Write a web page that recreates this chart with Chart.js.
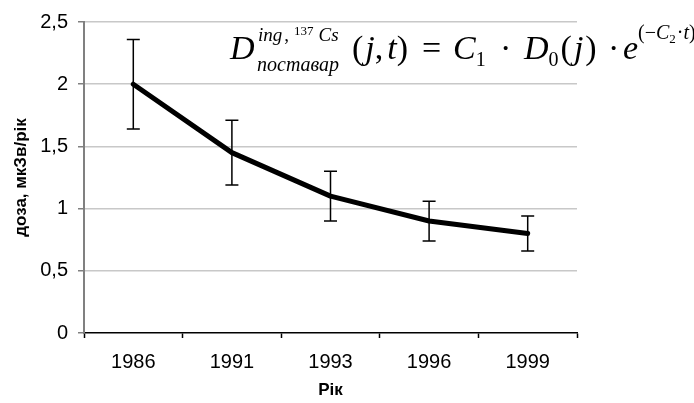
<!DOCTYPE html>
<html>
<head>
<meta charset="utf-8">
<script src="https://cdn.jsdelivr.net/npm/chart.js@4.4.1/dist/chart.umd.min.js"></script>
<style>
  html, body { margin: 0; padding: 0; background: #fff; }
  #wrap { width: 694px; height: 403px; }
</style>
</head>
<body>
<div id="wrap"><canvas id="myChart" width="694" height="403"></canvas></div>
<script>
// data
const years = ['1986', '1991', '1993', '1996', '1999'];
const dose = [2.0, 1.45, 1.1, 0.9, 0.8];
const doseErr = [0.36, 0.26, 0.2, 0.16, 0.14];
const yTicks = [0, 0.5, 1, 1.5, 2, 2.5];

const sans = "'Liberation Sans', Arial, sans-serif";
const serif = "'Liberation Serif', 'Times New Roman', serif";

// error bars, drawn from the y scale
const errorBars = {
  id: 'errorBars',
  afterDatasetsDraw(chart) {
    const ctx = chart.ctx;
    const x = chart.scales.x, y = chart.scales.y;
    ctx.save();
    ctx.strokeStyle = '#000';
    ctx.lineWidth = 1.5;
    dose.forEach((v, i) => {
      const px = x.getPixelForValue(i);
      const top = y.getPixelForValue(v + doseErr[i]);
      const bot = y.getPixelForValue(v - doseErr[i]);
      ctx.beginPath();
      ctx.moveTo(px, top); ctx.lineTo(px, bot);
      ctx.moveTo(px - 6.5, top); ctx.lineTo(px + 6.5, top);
      ctx.moveTo(px - 6.5, bot); ctx.lineTo(px + 6.5, bot);
      ctx.stroke();
    });
    ctx.restore();
  }
};

// formula in the top right corner
const formula = {
  id: 'formula',
  afterDraw(chart) {
    const ctx = chart.ctx;
    ctx.save();
    ctx.fillStyle = '#000';
    ctx.textBaseline = 'alphabetic';
    const it = s => 'italic ' + s + 'px ' + serif;
    const up = s => s + 'px ' + serif;
    const b = 59, M = 34, S = 20;
    function run(x, parts) {
      parts.forEach(p => {
        ctx.font = p[1];
        ctx.fillText(p[0], x, p[2]);
        x += ctx.measureText(p[0]).width + (p[3] || 0);
      });
      return x;
    }
    run(230, [['D', it(M), b]]);
    run(258, [['ing', it(19), 41, 2], [',', up(19), 41, 5], ['137', up(13), 35, 5], ['Cs', it(19), 41]]);
    run(257, [['поставар', it(S), 71]]);
    run(352, [['(', up(M), b, 2], ['j', it(M), b], [',', up(M), b, 4], ['t', it(M), b], [')', up(M), b]]);
    run(422, [['=', up(M), b]]);
    run(453, [['C', it(M), b, 0], ['1', up(S), b + 7]]);
    run(500, [['·', up(M), b]]);
    run(524, [['D', it(M), b], ['0', up(S), b + 7, 2], ['(', up(M), b, 2], ['j', it(M), b, 2], [')', up(M), b]]);
    run(608, [['·', up(M), b]]);
    run(623, [['e', it(M), b]]);
    run(638, [['(−', up(S), 39], ['C', it(S), 39], ['2', up(13), 43, 1], ['·', up(S), 39], ['t', it(S), 39], [')', up(S), 39]]);
    ctx.restore();
  }
};

const ctx = document.getElementById('myChart');

new Chart(ctx, {
  type: 'line',
  data: {
    labels: years,
    datasets: [{
      label: 'доза',
      data: dose,
      borderColor: '#000',
      borderWidth: 5,
      borderJoinStyle: 'round',
      borderCapStyle: 'round',
      pointRadius: 0,
      tension: 0,
      fill: false
    }]
  },
  options: {
    responsive: false,
    animation: false,
    devicePixelRatio: 1,
    layout: { padding: { top: 17, right: 117, left: 0, bottom: 0 } },
    plugins: { legend: { display: false }, tooltip: { enabled: false } },
    scales: {
      x: {
        offset: true,
        grid: { offset: true, drawOnChartArea: false, tickLength: 5, tickColor: '#000', tickWidth: 1.5 },
        border: { color: '#000', width: 1.5 },
        ticks: { color: '#000', padding: 12, font: { family: sans, size: 20 } },
        title: { display: true, text: 'Рік', color: '#000', padding: { top: 0, bottom: 2 }, font: { family: sans, size: 17, weight: 'bold' } },
        afterFit(scale) { scale.height = 70; }
      },
      y: {
        min: 0,
        max: 2.5,
        afterBuildTicks(scale) { scale.ticks = yTicks.map(v => ({ value: v })); },
        grid: {
          color: c => c.tick && c.tick.value === 0 ? 'rgba(0,0,0,0)' : '#c8c8c8',
          lineWidth: 1.5,
          tickLength: 6,
          tickColor: '#808080'
        },
        border: { color: '#808080', width: 2 },
        ticks: {
          color: '#000',
          padding: 10,
          font: { family: sans, size: 20 },
          callback: v => String(v).replace('.', ',')
        },
        title: { display: true, text: 'доза, мкЗв/рік', color: '#000', padding: { top: 11, bottom: 0 }, font: { family: sans, size: 17, weight: 'bold' } },
        afterFit(scale) { scale.width = 84; }
      }
    }
  },
  plugins: [errorBars, formula]
});
</script>
</body>
</html>
